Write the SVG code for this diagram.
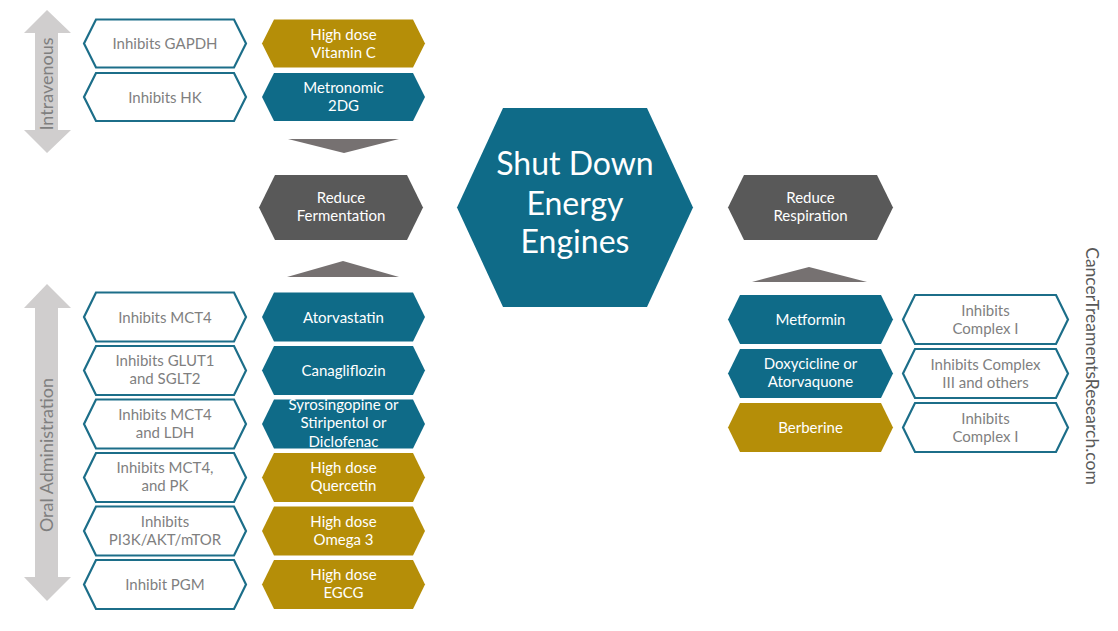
<svg xmlns="http://www.w3.org/2000/svg" width="1118" height="631" viewBox="0 0 1118 631">
<style>
text{font-family:Lato,"Open Sans","Liberation Sans",sans-serif;}
.w polygon{fill:#ffffff;stroke:#1c6e89;stroke-width:2.2;}
.w text{fill:#7f7f7f;font-size:15px;text-anchor:middle;}
.t polygon{fill:#0f6b88;}
.g polygon{fill:#b58e08;}
.d polygon{fill:#595959;}
.t text,.g text,.d text{fill:#ffffff;font-size:15px;text-anchor:middle;}
.t text.big{font-size:32px;}
.tri{fill:#767171;}
.arr{fill:#d0cece;}
.side{fill:#7f7f7f;font-size:18px;text-anchor:middle;dominant-baseline:central;}
</style>
<rect width="1118" height="631" fill="#ffffff"/>

<!-- side arrows -->
<g id="arrow-intravenous">
<polygon class="arr" points="47,10 71,33 58,33 58,130 71,130 47,153 24,130 35,130 35,33 24,33"/>
<text class="side" transform="translate(46,84) rotate(-90)">Intravenous</text>
</g>
<g id="arrow-oral">
<polygon class="arr" points="47,284 71,308 58,308 58,577 71,577 47,601 24,577 35,577 35,308 24,308"/>
<text class="side" transform="translate(46,455) rotate(-90)">Oral Administration</text>
</g>

<!-- connectors -->
<g id="connectors">
<polygon class="tri" points="288,139 399,139 344,153"/>
<polygon class="tri" points="287,277 399,277 343,261"/>
<polygon class="tri" points="752,282 867,282 809,267"/>
</g>

<!-- top left -->
<g id="n-gapdh" class="w"><polygon points="84,43.5 96,19.5 234,19.5 246,43.5 234,67.5 96,67.5"/><text x="165" y="49">Inhibits GAPDH</text></g>
<g id="n-hk" class="w"><polygon points="84,97 96,73 234,73 246,97 234,121 96,121"/><text x="165" y="102.5">Inhibits HK</text></g>
<g id="n-vitc" class="g"><polygon points="262,43.5 274,19.5 413,19.5 425,43.5 413,67.5 274,67.5"/><text x="343.5" y="39.5">High dose</text><text x="343.5" y="57.5">Vitamin C</text></g>
<g id="n-2dg" class="t"><polygon points="262,97 274,73 413,73 425,97 413,121 274,121"/><text x="343.5" y="93">Metronomic</text><text x="343.5" y="111">2DG</text></g>

<!-- reduce fermentation -->
<g id="n-ferm" class="d"><polygon points="259,207.5 275,175 407,175 423,207.5 407,240 275,240"/><text x="341" y="203">Reduce</text><text x="341" y="221">Fermentation</text></g>

<!-- center -->
<g id="n-center" class="t"><polygon points="457,207.5 503,108 647,108 693,207.5 647,307 503,307"/>
<text class="big" x="575" y="175">Shut Down</text>
<text class="big" x="575" y="215">Energy</text>
<text class="big" x="575" y="253">Engines</text></g>

<!-- reduce respiration -->
<g id="n-resp" class="d"><polygon points="728,207.5 744,175 877,175 893,207.5 877,240 744,240"/><text x="810.5" y="203">Reduce</text><text x="810.5" y="221">Respiration</text></g>

<!-- bottom left white -->
<g id="n-mct4" class="w"><polygon points="84,317 96,292.5 234,292.5 246,317 234,341.5 96,341.5"/><text x="165" y="322.5">Inhibits MCT4</text></g>
<g id="n-glut" class="w"><polygon points="84,370.5 96,346 234,346 246,370.5 234,395 96,395"/><text x="165" y="366">Inhibits GLUT1</text><text x="165" y="384">and SGLT2</text></g>
<g id="n-ldh" class="w"><polygon points="84,424 96,399.5 234,399.5 246,424 234,448.5 96,448.5"/><text x="165" y="419.5">Inhibits MCT4</text><text x="165" y="437.5">and LDH</text></g>
<g id="n-pk" class="w"><polygon points="84,477.5 96,453 234,453 246,477.5 234,502 96,502"/><text x="165" y="473">Inhibits MCT4,</text><text x="165" y="491">and PK</text></g>
<g id="n-pi3k" class="w"><polygon points="84,531 96,506.5 234,506.5 246,531 234,555.5 96,555.5"/><text x="165" y="526.5">Inhibits</text><text x="165" y="544.5">PI3K/AKT/mTOR</text></g>
<g id="n-pgm" class="w"><polygon points="84,584.5 96,560 234,560 246,584.5 234,609 96,609"/><text x="165" y="590">Inhibit PGM</text></g>

<!-- bottom left colored -->
<g id="n-atorva" class="t"><polygon points="262,317 274,292.5 413,292.5 425,317 413,341.5 274,341.5"/><text x="343.5" y="322.5">Atorvastatin</text></g>
<g id="n-cana" class="t"><polygon points="262,370.5 274,346 413,346 425,370.5 413,395 274,395"/><text x="343.5" y="376">Canagliflozin</text></g>
<g id="n-syro" class="t"><polygon points="262,424 274,399.5 413,399.5 425,424 413,448.5 274,448.5"/><text x="343.5" y="409.5">Syrosingopine or</text><text x="343.5" y="428">Stiripentol or</text><text x="343.5" y="446.5">Diclofenac</text></g>
<g id="n-querc" class="g"><polygon points="262,477.5 274,453 413,453 425,477.5 413,502 274,502"/><text x="343.5" y="473">High dose</text><text x="343.5" y="491">Quercetin</text></g>
<g id="n-omega" class="g"><polygon points="262,531 274,506.5 413,506.5 425,531 413,555.5 274,555.5"/><text x="343.5" y="526.5">High dose</text><text x="343.5" y="544.5">Omega 3</text></g>
<g id="n-egcg" class="g"><polygon points="262,584.5 274,560 413,560 425,584.5 413,609 274,609"/><text x="343.5" y="580">High dose</text><text x="343.5" y="598">EGCG</text></g>

<!-- right colored -->
<g id="n-metf" class="t"><polygon points="728,319.5 740,295 881,295 893,319.5 881,344 740,344"/><text x="810.5" y="324.5">Metformin</text></g>
<g id="n-doxy" class="t"><polygon points="728,373.5 740,349 881,349 893,373.5 881,398 740,398"/><text x="810.5" y="369">Doxycicline or</text><text x="810.5" y="387">Atorvaquone</text></g>
<g id="n-berb" class="g"><polygon points="728,427.5 740,403 881,403 893,427.5 881,452 740,452"/><text x="810.5" y="432.5">Berberine</text></g>

<!-- right white -->
<g id="n-c1a" class="w"><polygon points="903,319.5 915,295 1056,295 1068,319.5 1056,344 915,344"/><text x="985.5" y="316">Inhibits</text><text x="985.5" y="334">Complex I</text></g>
<g id="n-c3" class="w"><polygon points="903,373.5 915,349 1056,349 1068,373.5 1056,398 915,398"/><text x="985.5" y="370">Inhibits Complex</text><text x="985.5" y="388">III and others</text></g>
<g id="n-c1b" class="w"><polygon points="903,427.5 915,403 1056,403 1068,427.5 1056,452 915,452"/><text x="985.5" y="423.5">Inhibits</text><text x="985.5" y="441.5">Complex I</text></g>

<!-- watermark -->
<text id="site" transform="translate(1092,366) rotate(90)" style="fill:#595959;font-size:17.5px;text-anchor:middle;dominant-baseline:central">CancerTreamentsResearch.com</text>
</svg>
